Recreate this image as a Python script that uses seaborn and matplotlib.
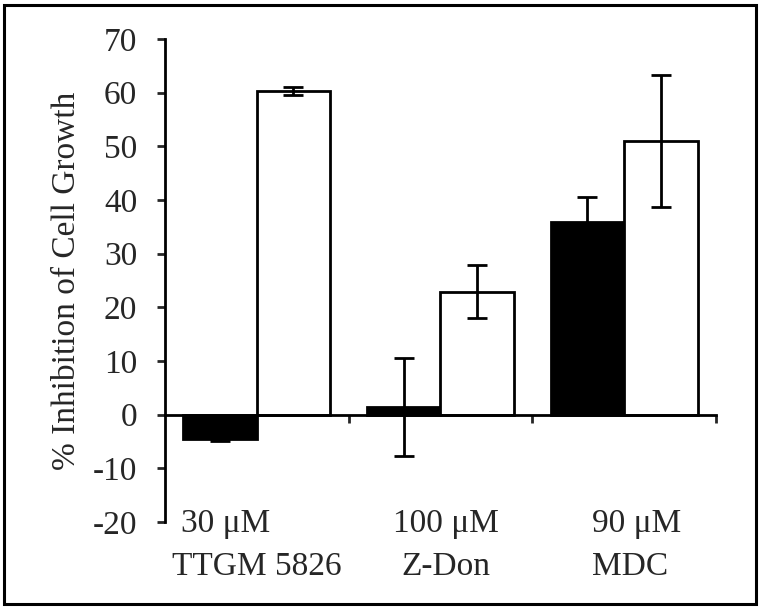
import pandas as pd
import matplotlib
matplotlib.use("Agg")
import matplotlib.pyplot as plt
import seaborn as sns
from matplotlib.patches import Rectangle

sns.set_theme(style="white")
plt.rcParams["font.family"] = ["Liberation Serif", "DejaVu Serif"]
plt.rcParams["axes.unicode_minus"] = False

# data
groups = ["TTGM 5826", "Z-Don", "MDC"]
doses = ["30 \u03bcM", "100 \u03bcM", "90 \u03bcM"]
series = ["black", "white"]
black_vals = [-4.5, 1.4, 35.8]
black_err = [0.5, 9.2, 4.7]
white_vals = [60.3, 22.9, 50.9]
white_err = [0.7, 4.9, 12.3]

df = pd.DataFrame({
    "group": groups * 2,
    "series": ["black"] * 3 + ["white"] * 3,
    "value": black_vals + white_vals,
    "err": black_err + white_err,
})

fig = plt.figure(figsize=(7.6, 6.09), dpi=100)
ax = fig.add_axes([0.217, 0.143, 0.725, 0.793])

sns.barplot(data=df, x="group", y="value", hue="series", order=groups,
            hue_order=series, palette={"black": "black", "white": "white"},
            edgecolor="black", linewidth=2, width=0.8, errorbar=None,
            legend=False, ax=ax)

errs = {"black": black_err, "white": white_err}
for cont, s in zip(ax.containers, series):
    xs = [p.get_x() + p.get_width() / 2 for p in cont]
    ys = df[df["series"] == s]["value"].tolist()
    ax.errorbar(xs, ys, yerr=errs[s], fmt="none", ecolor="black",
                elinewidth=2, capsize=7, capthick=2, zorder=5)

ax.set_xlim(-0.5, 2.5)
ax.set_ylim(-20, 70)
ax.set_yticks(range(-20, 71, 10))
ax.tick_params(axis="y", direction="out", length=6, width=2, pad=14,
               labelsize=24, left=True)
ax.set_xticks([0.5, 1.5, 2.5])
ax.set_xticklabels([])
ax.tick_params(axis="x", direction="out", length=6, width=2, bottom=True)
ax.set_xlabel("")
ax.set_ylabel("% Inhibition of Cell Growth", fontsize=24, labelpad=8)

for side in ["top", "right"]:
    ax.spines[side].set_visible(False)
ax.spines["left"].set_linewidth(2)
ax.spines["left"].set_color("black")
ax.spines["bottom"].set_position(("data", 0))
ax.spines["bottom"].set_linewidth(2)
ax.spines["bottom"].set_color("black")
ax.spines["bottom"].set_zorder(1)

# category labels below the plot
dose_x = [-0.17, 1.03, 2.07]
name_x = [0.0, 1.03, 2.03]
for i in range(3):
    ax.text(dose_x[i], -20.3, doses[i], ha="center", va="center",
            fontsize=24, clip_on=False)
    ax.text(name_x[i], -28.4, groups[i], ha="center", va="center",
            fontsize=24, clip_on=False)

fig.patches.append(Rectangle((4 / 760, 5 / 609), 752 / 760, 599 / 609,
                             transform=fig.transFigure, fill=False,
                             edgecolor="black", linewidth=2.2))

fig.savefig("out.png", dpi=100)
